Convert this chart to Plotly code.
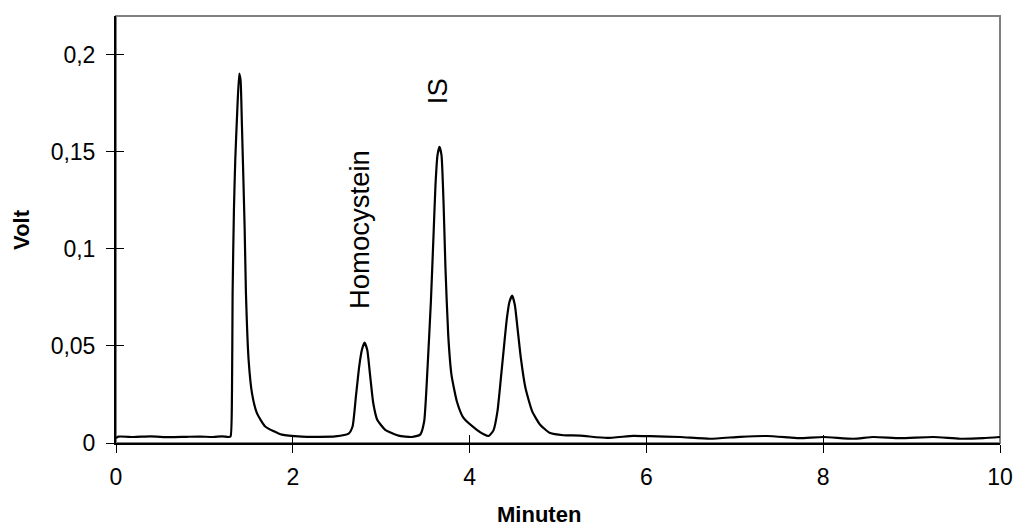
import plotly.graph_objects as go

# Chromatogram trace (time in minutes, signal in volt)
time_min = [
    0.0, 0.03, 0.2, 0.39, 0.6, 0.8, 0.95, 1.1, 1.2, 1.273, 1.296, 1.312, 1.319,
    1.334, 1.349, 1.372, 1.394, 1.409, 1.425, 1.455, 1.470, 1.500, 1.538, 1.594,
    1.688, 1.877, 2.103, 2.3, 2.48, 2.631, 2.676, 2.714, 2.751, 2.782, 2.811,
    2.842, 2.872, 2.910, 2.955, 3.045, 3.196, 3.347, 3.441, 3.486, 3.524, 3.562,
    3.592, 3.614, 3.637, 3.659, 3.682, 3.705, 3.727, 3.758, 3.795, 3.856, 3.931,
    4.082, 4.16, 4.215, 4.270, 4.315, 4.354, 4.391, 4.422, 4.451, 4.482, 4.512,
    4.542, 4.580, 4.632, 4.708, 4.798, 4.911, 5.062, 5.251, 5.552, 5.853, 6.042,
    6.381, 6.721, 7.06, 7.362, 7.606, 7.738, 8.002, 8.341, 8.567, 8.869, 9.246,
    9.548, 9.811, 10.0,
]
volt = [
    0.0026, 0.0033, 0.0031, 0.0034, 0.0030, 0.0032, 0.0033, 0.0031, 0.0034, 0.0031,
    0.0034, 0.0257, 0.0772, 0.120, 0.1457, 0.1714, 0.1903, 0.1869, 0.1629, 0.1114,
    0.0772, 0.0429, 0.0257, 0.0154, 0.0085, 0.0043, 0.0033, 0.0032, 0.0034, 0.0048,
    0.0085, 0.024, 0.0394, 0.048, 0.0517, 0.048, 0.036, 0.0206, 0.012, 0.0068,
    0.0038, 0.0031, 0.0043, 0.0111, 0.0386, 0.0728, 0.1071, 0.1329, 0.1483, 0.1526,
    0.1483, 0.1243, 0.090, 0.0557, 0.0351, 0.0214, 0.0129, 0.0068, 0.0045, 0.0036,
    0.0065, 0.0163, 0.0334, 0.0506, 0.0643, 0.0728, 0.0759, 0.0711, 0.0592, 0.0437,
    0.0283, 0.0163, 0.0094, 0.0051, 0.0040, 0.0038, 0.0026, 0.0037, 0.0035, 0.0031,
    0.0022, 0.0032, 0.0036, 0.0029, 0.0025, 0.0031, 0.0022, 0.0031, 0.0025, 0.0031,
    0.0022, 0.0025, 0.0031,
]

peak_labels = ["Homocystein", "IS"]
peak_label_x = [2.755, 3.637]
peak_label_y = [0.110, 0.181]

x_ticks = [0, 2, 4, 6, 8, 10]
x_ticktext = ["0", "2", "4", "6", "8", "10"]
y_ticks = [0, 0.05, 0.1, 0.15, 0.2]
y_ticktext = ["0", "0,05", "0,1", "0,15", "0,2"]

x_range = [0, 10]
y_range = [0, 0.22]

FONT = "Liberation Sans, Arial, sans-serif"

fig = go.Figure()
fig.add_trace(go.Scatter(
    x=time_min, y=volt, mode="lines",
    line=dict(color="black", width=2.2, shape="spline", smoothing=0.5),
    showlegend=False, hoverinfo="skip",
))
# dummy trace on overlay axes (used for inward half of crossing ticks)
fig.add_trace(go.Scatter(x=[None], y=[None], xaxis="x2", yaxis="y2",
                         showlegend=False, hoverinfo="skip"))

for txt, tx, ty in zip(peak_labels, peak_label_x, peak_label_y):
    fig.add_annotation(x=tx, y=ty, text=txt, textangle=-90, showarrow=False,
                       font=dict(family=FONT, size=27.5, color="black"))

fig.add_annotation(xref="paper", yref="paper", x=0.478, y=-0.168, text="<b>Minuten</b>",
                   showarrow=False, xanchor="center", yanchor="middle",
                   font=dict(family=FONT, size=22, color="black"))
fig.add_annotation(xref="paper", yref="paper", x=-0.107, y=0.5, text="<b>Volt</b>",
                   showarrow=False, xanchor="center", yanchor="middle", textangle=-90,
                   font=dict(family=FONT, size=22, color="black"))

axis_common = dict(showgrid=False, zeroline=False, ticklen=8, tickwidth=1.3,
                   tickcolor="black", automargin=False)

fig.update_layout(
    width=1017, height=530,
    margin=dict(l=116, r=17, t=16, b=87, autoexpand=False),
    paper_bgcolor="white", plot_bgcolor="white",
    font=dict(family=FONT, size=23, color="black"),
    xaxis=dict(range=x_range, tickvals=x_ticks, ticktext=x_ticktext,
               ticks="outside", showline=True, linecolor="black", linewidth=2,
               tickfont=dict(size=23), ticklabelstandoff=4, **axis_common),
    yaxis=dict(range=y_range, tickvals=y_ticks, ticktext=y_ticktext,
               ticks="outside", showline=True, linecolor="black", linewidth=2,
               tickfont=dict(size=23), ticklabelstandoff=6, **axis_common),
    xaxis2=dict(range=x_range, tickvals=x_ticks, ticks="inside", overlaying="x",
                anchor="y", side="bottom", showticklabels=False, showline=False,
                **axis_common),
    yaxis2=dict(range=y_range, tickvals=y_ticks, ticks="inside", overlaying="y",
                anchor="x", side="left", showticklabels=False, showline=False,
                **axis_common),
    shapes=[dict(type="rect", xref="paper", yref="paper", x0=0, y0=0, x1=1, y1=1,
                 line=dict(color="#808080", width=2), layer="below")],
)

fig.write_html("out.html",
               config={"displayModeBar": False},
               post_script="document.body.style.margin='0px';"
                           "document.body.style.overflow='hidden';")
